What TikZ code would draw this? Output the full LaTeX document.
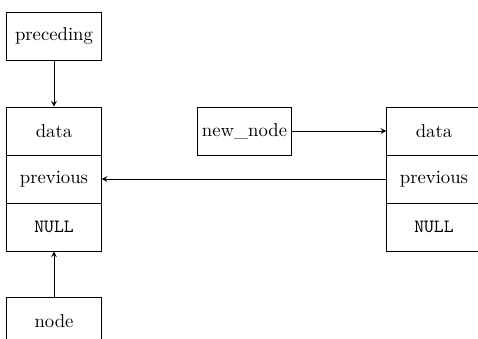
\documentclass[tikz,border=0pt]{standalone}
\begin{document}
\begin{tikzpicture}[x=0.535pt,y=-0.535pt,
  box/.style={draw,line width=0.4pt,minimum width=50.5pt,minimum height=25.6pt,inner sep=0pt,font=\normalsize},
  conn/.style={->,line width=0.4pt,>=stealth}]
\useasboundingbox (0,0) rectangle (478,338);
\clip (0,0) rectangle (478,338);
\node[box] (prec) at (54,36) {preceding};
\node[box] (ldata) at (54,131) {data};
\node[box] (lprev) at (54,179) {previous};
\node[box] (lnull) at (54,227) {\texttt{NULL}};
\node[box] (node) at (54,321) {node};
\node[box] (new) at (244.5,131) {new\_node};
\node[box] (rdata) at (434,131) {data};
\node[box] (rprev) at (434,179) {previous};
\node[box] (rnull) at (434,227) {\texttt{NULL}};
\draw[conn] (prec) -- (ldata);
\draw[conn] (node) -- (lnull);
\draw[conn] (new) -- (rdata);
\draw[conn] (rprev) -- (lprev);
\end{tikzpicture}
\end{document}
